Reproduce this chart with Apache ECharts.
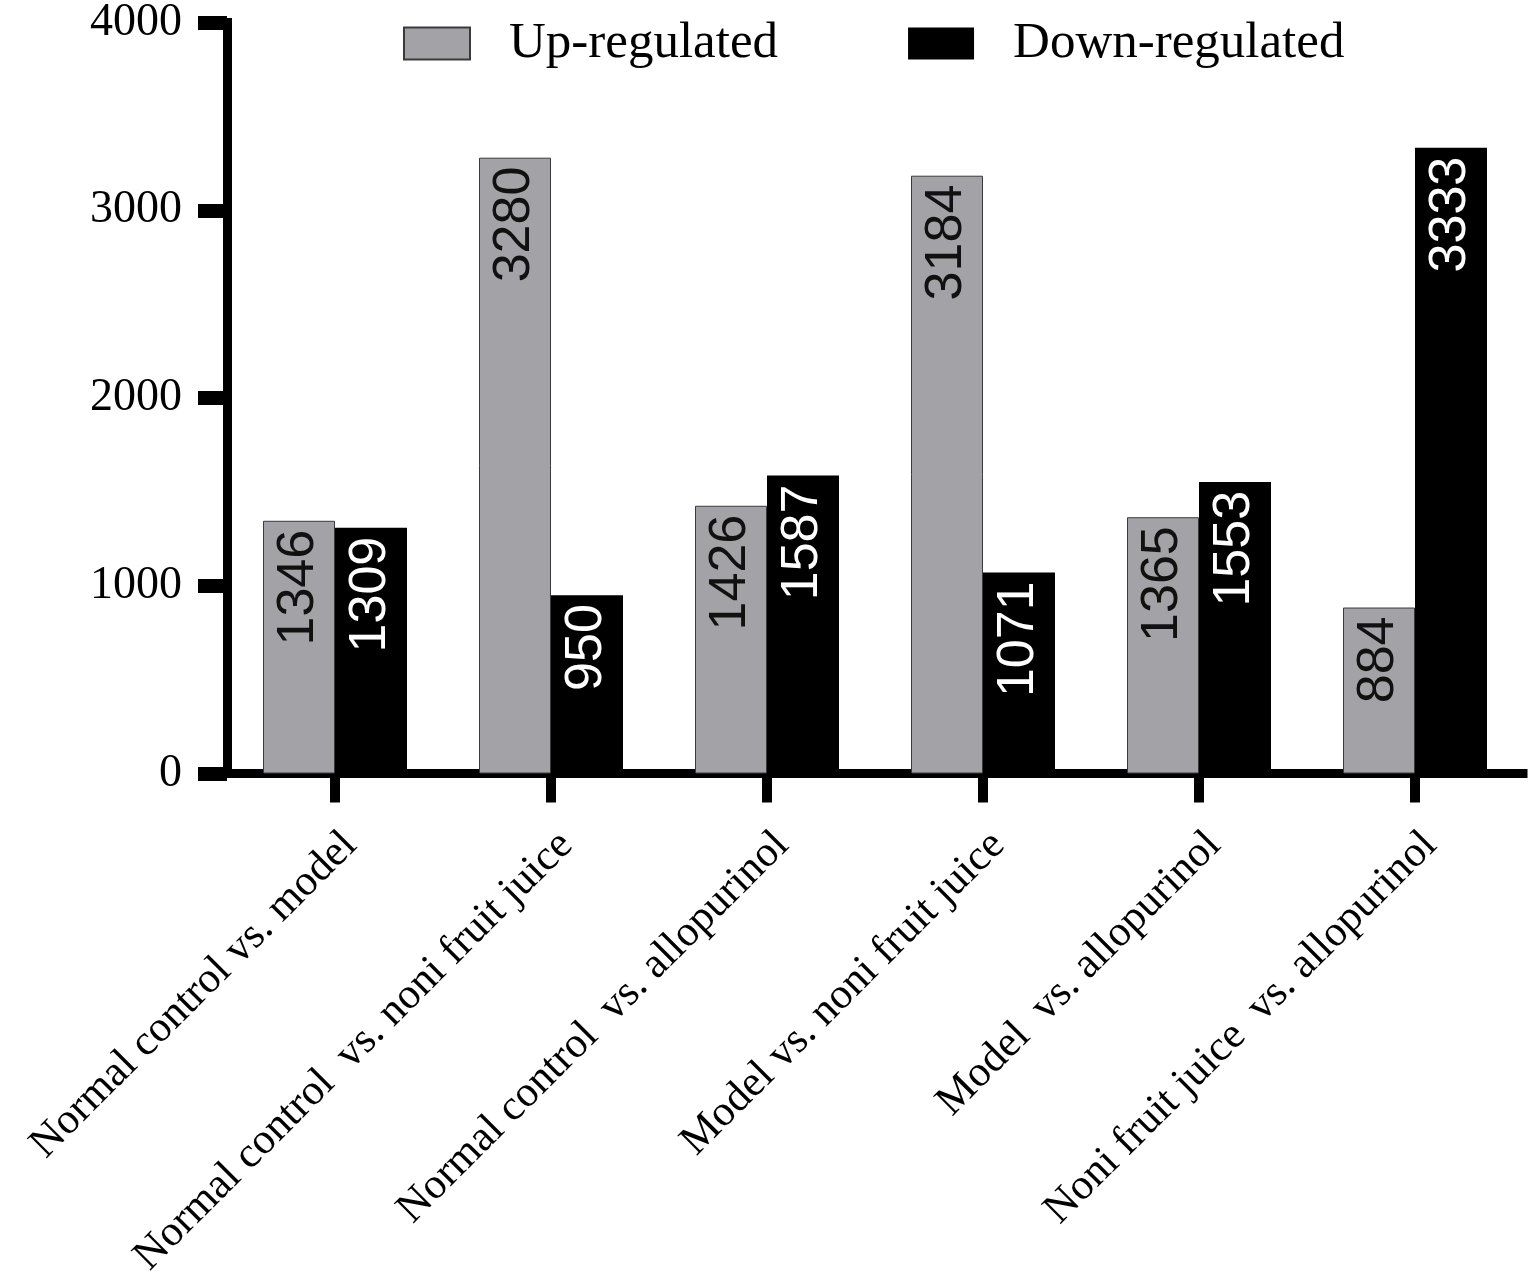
<!DOCTYPE html>
<html>
<head>
<meta charset="utf-8">
<script src="https://cdn.jsdelivr.net/npm/echarts@6/dist/echarts.min.js"></script>
<style>
html,body{margin:0;padding:0;background:#fff;}
#chart{width:1535px;height:1277px;}
</style>
</head>
<body>
<div id="chart"></div>
<script>
var categories = [
  'Normal control vs. model',
  'Normal control  vs. noni fruit juice',
  'Normal control  vs. allopurinol',
  'Model vs. noni fruit juice',
  'Model  vs. allopurinol',
  'Noni fruit juice  vs. allopurinol'
];
var upRegulated = [1346, 3280, 1426, 3184, 1365, 884];
var downRegulated = [1309, 950, 1587, 1071, 1553, 3333];
var yTicks = [0, 1000, 2000, 3000, 4000];

var serif = "'Liberation Serif', 'Times New Roman', serif";
var sans = "'Liberation Sans', Arial, sans-serif";

var chart = echarts.init(document.getElementById('chart'));
chart.setOption({
  animation: false,
  backgroundColor: '#ffffff',
  legend: {
    left: 403,
    top: 18,
    padding: 0,
    icon: 'rect',
    itemWidth: 66,
    itemHeight: 32,
    itemGap: 130,
    textStyle: {fontFamily: serif, fontSize: 51, color: '#000', padding: [0, 0, 0, 34]},
    data: ['Up-regulated', 'Down-regulated']
  },
  grid: {left: 227, right: 12, top: 22.5, bottom: 503.5, containLabel: false, outerBoundsMode: 'none'},
  xAxis: {
    type: 'category',
    data: categories,
    axisLine: {lineStyle: {color: '#000', width: 9, cap: 'square'}},
    axisTick: {show: true, alignWithLabel: true, length: 29, lineStyle: {color: '#000', width: 10, cap: 'butt'}},
    axisLabel: {
      interval: 0,
      rotate: 45,
      align: 'right',
      verticalAlign: 'top',
      margin: 50,
      fontFamily: serif,
      fontSize: 43,
      color: '#000'
    }
  },
  yAxis: {
    type: 'value',
    min: yTicks[0],
    max: yTicks[yTicks.length - 1],
    interval: 1000,
    splitLine: {show: false},
    axisLine: {show: true, lineStyle: {color: '#000', width: 9, cap: 'square'}},
    axisTick: {show: true, length: 29, lineStyle: {color: '#000', width: 14, cap: 'butt'}},
    axisLabel: {
      margin: 45,
      fontFamily: serif,
      fontSize: 46,
      color: '#000',
      formatter: function (v) { return String(v); }
    }
  },
  series: [
    {
      name: 'Up-regulated',
      type: 'bar',
      data: upRegulated,
      barWidth: 72,
      barGap: '0%',
      itemStyle: {color: '#a3a3a7', borderColor: '#3a3a3a', borderWidth: 1},
      label: {
        show: true,
        position: 'insideTop',
        rotate: 90,
        align: 'right',
        verticalAlign: 'middle',
        distance: 9,
        fontFamily: sans,
        fontSize: 52,
        color: '#111'
      }
    },
    {
      name: 'Down-regulated',
      type: 'bar',
      data: downRegulated,
      barWidth: 72,
      barGap: '0%',
      itemStyle: {color: '#000000'},
      label: {
        show: true,
        position: 'insideTop',
        rotate: 90,
        align: 'right',
        verticalAlign: 'middle',
        distance: 9,
        fontFamily: sans,
        fontSize: 52,
        color: '#fff'
      }
    }
  ]
});
</script>
</body>
</html>
